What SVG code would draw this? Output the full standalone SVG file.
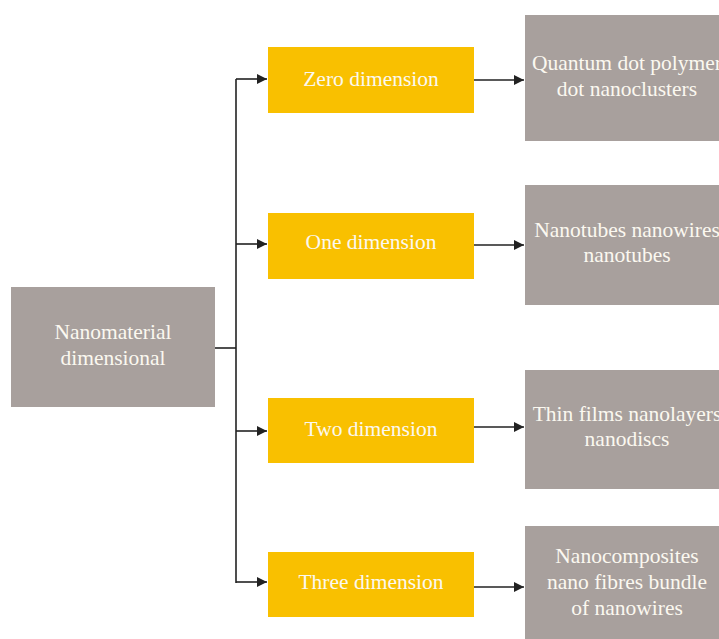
<svg xmlns="http://www.w3.org/2000/svg" width="719" height="639" viewBox="0 0 719 639">
<style>
.gray{fill:#a8a09d}
.yel{fill:#f9c000}
.t{font-family:'Liberation Serif','DejaVu Serif',serif;font-size:21.5px;fill:#fbf8f0;text-anchor:middle}
.ln{stroke:#222;stroke-width:1.6;fill:none}
</style>
<defs>
<marker id="ah" viewBox="0 0 10 10" refX="10" refY="5" markerWidth="10" markerHeight="10" markerUnits="userSpaceOnUse" orient="auto">
<path d="M0,0 L10,5 L0,10 z" fill="#222"/>
</marker>
</defs>
<rect width="719" height="639" fill="#fff"/>
<g id="connectors">
<path class="ln" d="M215,348 H236"/>
<path class="ln" d="M236,79 V583"/>
<path class="ln" d="M236,79 H267" marker-end="url(#ah)"/>
<path class="ln" d="M236,244 H267" marker-end="url(#ah)"/>
<path class="ln" d="M236,431 H267" marker-end="url(#ah)"/>
<path class="ln" d="M236,582 H267" marker-end="url(#ah)"/>
<path class="ln" d="M474,80 H524" marker-end="url(#ah)"/>
<path class="ln" d="M474,245 H524" marker-end="url(#ah)"/>
<path class="ln" d="M474,427 H524" marker-end="url(#ah)"/>
<path class="ln" d="M474,587 H524" marker-end="url(#ah)"/>
</g>
<g id="root" class="t">
<rect class="gray" x="11" y="287" width="204" height="120"/>
<text x="113" y="339">Nanomaterial</text>
<text x="113" y="365">dimensional</text>
</g>
<g id="zero" class="t">
<rect class="yel" x="268" y="47" width="206" height="66"/>
<text x="371" y="86">Zero dimension</text>
</g>
<g id="one" class="t">
<rect class="yel" x="268" y="213" width="206" height="66"/>
<text x="371" y="249">One dimension</text>
</g>
<g id="two" class="t">
<rect class="yel" x="268" y="398" width="206" height="65"/>
<text x="371" y="436">Two dimension</text>
</g>
<g id="three" class="t">
<rect class="yel" x="268" y="552" width="206" height="65"/>
<text x="371" y="589">Three dimension</text>
</g>
<g id="zero-ex" class="t">
<rect class="gray" x="525" y="15" width="200" height="126"/>
<text x="627" y="70">Quantum dot polymer</text>
<text x="627" y="96">dot nanoclusters</text>
</g>
<g id="one-ex" class="t">
<rect class="gray" x="525" y="185" width="200" height="120"/>
<text x="627" y="237">Nanotubes nanowires</text>
<text x="627" y="262">nanotubes</text>
</g>
<g id="two-ex" class="t">
<rect class="gray" x="525" y="370" width="200" height="119"/>
<text x="627" y="421">Thin films nanolayers</text>
<text x="627" y="446">nanodiscs</text>
</g>
<g id="three-ex" class="t">
<rect class="gray" x="525" y="526" width="200" height="120"/>
<text x="627" y="563">Nanocomposites</text>
<text x="627" y="589">nano fibres bundle</text>
<text x="627" y="615">of nanowires</text>
</g>
</svg>
